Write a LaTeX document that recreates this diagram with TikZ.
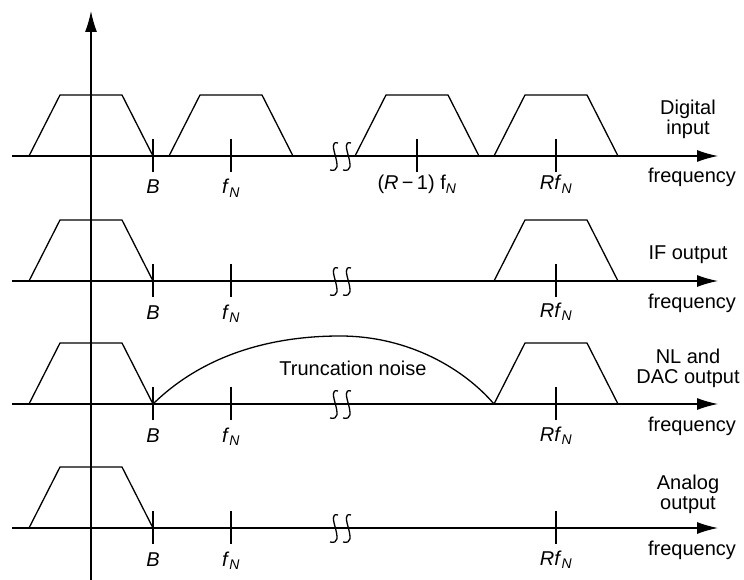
\documentclass[tikz,border=0pt]{standalone}
\usepackage{fontspec}
\setmainfont{Liberation Sans}
\usetikzlibrary{arrows.meta, positioning}

\tikzset{
    line/.style={line width=1.3pt},
    axis/.style={line width=1.3pt, -{Latex[length=21pt, width=12pt]}},
    lbl/.style={font=\fontsize{20}{20}\selectfont, inner sep=0pt, anchor=base},
    rlbl/.style={font=\fontsize{20}{20}\selectfont, inner sep=0pt, anchor=south, align=center},
    band/.pic={\draw[line] (-62,0) -- (-31,-61) -- (31,-61) -- (62,0);},
    gapmark/.pic={
        \draw[line width=1.3pt] (-2,-13) .. controls (-16,-17) and (8,18) .. (-10,14);
        \draw[line width=1.3pt] (11,-13) .. controls (-3,-17) and (21,18) .. (3,14);
    },
}

\begin{document}
\begin{tikzpicture}[x=1pt, y=-1pt]
    \useasboundingbox (0,0) rectangle (744,580);

    % vertical axis
    \draw[axis] (91,580) -- (91,11);

    % common parts of the four spectra
    \foreach \b/\r in {156/1, 281/2, 404/3, 528/4} {
        \draw[axis] (12,\b) -- (718,\b);
        \pic at (340,\b) {gapmark};
        \pic at (91,\b) {band};
        \foreach \x in {153, 231, 556}
            \draw[line] (\x,\b-17) -- (\x,\b+16);
        \node[lbl] (B-\r) at (153,\b+38) {\textit{B}};
        \node[lbl] (fN-\r) at (231,\b+38) {\textit{f}\textsubscript{\textit{N}}};
        \node[lbl] (freq-\r) at (692,\b+27) {frequency};
    }

    % digital input
    \pic at (231,156) {band};
    \pic at (417,156) {band};
    \pic at (556,156) {band};
    \draw[line] (417,139) -- (417,172);
    \node[lbl] (Rm1fN-1) at (417,190) {(\textit{R}\,−\,1) f\textsubscript{\textit{N}}};
    \node[lbl] (RfN-1) at (556,190) {\textit{Rf}\textsubscript{\textit{N}}};
    \node[rlbl] (name-1) at (688,139) {Digital\\input};

    % IF output
    \pic at (556,281) {band};
    \node[lbl] (RfN-2) at (556,317) {\textit{Rf}\textsubscript{\textit{N}}};
    \node[rlbl] (name-2) at (688,264) {IF output};

    % NL and DAC output
    \pic at (556,404) {band};
    \draw[line] (153,404) .. controls (200,358) and (265,336) .. (340,336)
                          .. controls (410,336) and (465,370) .. (494,404);
    \node[lbl] (noise) at (353,375) {Truncation noise};
    \node[lbl] (RfN-3) at (556,441) {\textit{Rf}\textsubscript{\textit{N}}};
    \node[rlbl] (name-3) at (688,388) {NL and\\DAC output};

    % analog output
    \node[lbl] (RfN-4) at (556,565) {\textit{Rf}\textsubscript{\textit{N}}};
    \node[rlbl] (name-4) at (688,514) {Analog\\output};
\end{tikzpicture}
\end{document}
